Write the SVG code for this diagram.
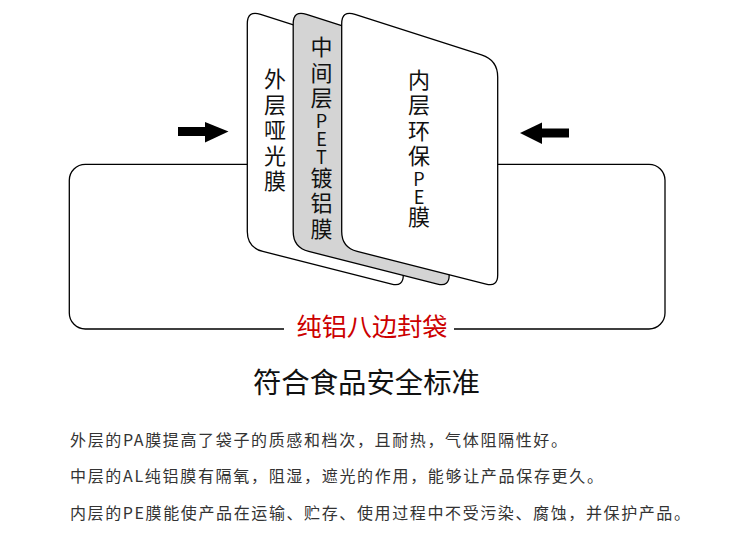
<svg xmlns="http://www.w3.org/2000/svg" width="750" height="557" viewBox="0 0 750 557">
<style>
.panel{stroke:#000;stroke-width:1.3;stroke-linejoin:round}
.pt{font-family:"Noto Sans CJK SC","Noto Sans",sans-serif;font-size:22px;fill:#111;writing-mode:vertical-rl;text-orientation:upright}
.lat{font-size:18px}
.desc{font-family:"Noto Sans CJK SC","Noto Sans",sans-serif;font-size:16px;fill:#333}
</style>
<defs>
<path id="card" d="M0,24 Q0,10 13.3,14.3 L139.8,54.8 Q156,60 156,77 L156,275 Q156,287 144.4,284.1 L15.5,251.4 Q0,247.5 0,231.5 Z"/>
</defs>
<rect width="750" height="557" fill="#fff"/>
<g id="connectors">
<rect x="69.3" y="164.3" width="595.7" height="164.7" rx="16" ry="16" fill="none" stroke="#000" stroke-width="1.3"/>
<rect x="284" y="312" width="170" height="32" fill="#fff"/>
<g id="arrow-left" fill="#000">
<rect x="178" y="127" width="29" height="9"/>
<polygon points="205,122 228.5,131.5 205,142.5"/>
</g>
<g id="arrow-right" fill="#000">
<rect x="540" y="128.5" width="29" height="9"/>
<polygon points="542,122.5 520,133 542,144"/>
</g>
</g>
<g id="outer-layer">
<use href="#card" x="247.3" class="panel" fill="#fff"/>
<text class="pt" x="275" y="68">外</text>
<text class="pt" x="275" y="93.5">层</text>
<text class="pt" x="275" y="119">哑</text>
<text class="pt" x="275" y="144.5">光</text>
<text class="pt" x="275" y="170">膜</text>
</g>
<g id="middle-layer">
<use href="#card" x="293.2" class="panel" fill="#d4d4d4"/>
<text class="pt" x="321.5" y="36">中</text>
<text class="pt" x="321.5" y="61.5">间</text>
<text class="pt" x="321.5" y="87">层</text>
<text class="pt lat" x="321.5" y="112.5">P</text>
<text class="pt lat" x="321.5" y="130.5">E</text>
<text class="pt lat" x="321.5" y="148.5">T</text>
<text class="pt" x="321.5" y="166.5">镀</text>
<text class="pt" x="321.5" y="192">铝</text>
<text class="pt" x="321.5" y="217.5">膜</text>
</g>
<g id="inner-layer">
<use href="#card" x="341.7" class="panel" fill="#fff"/>
<text class="pt" x="419" y="68.5">内</text>
<text class="pt" x="419" y="94">层</text>
<text class="pt" x="419" y="119.5">环</text>
<text class="pt" x="419" y="145">保</text>
<text class="pt lat" x="419" y="170.5">P</text>
<text class="pt lat" x="419" y="188">E</text>
<text class="pt" x="419" y="205.5">膜</text>
</g>
<g id="bag-label">
<text x="372" y="335.5" text-anchor="middle" textLength="151" lengthAdjust="spacingAndGlyphs" font-family="Noto Sans CJK SC, sans-serif" font-size="25" fill="#cc0000">纯铝八边封袋</text>
</g>
<g id="standard">
<text x="366.5" y="393" text-anchor="middle" textLength="227" lengthAdjust="spacingAndGlyphs" font-family="Noto Sans CJK SC, sans-serif" font-size="28" fill="#111">符合食品安全标准</text>
</g>
<g id="description">
<text class="desc" x="70" y="446" textLength="497" lengthAdjust="spacing">外层的PA膜提高了袋子的质感和档次，且耐热，气体阻隔性好。</text>
<text class="desc" x="70" y="482" textLength="533" lengthAdjust="spacing">中层的AL纯铝膜有隔氧，阻湿，遮光的作用，能够让产品保存更久。</text>
<text class="desc" x="70" y="519" textLength="620" lengthAdjust="spacing">内层的PE膜能使产品在运输、贮存、使用过程中不受污染、腐蚀，并保护产品。</text>
</g>
</svg>
